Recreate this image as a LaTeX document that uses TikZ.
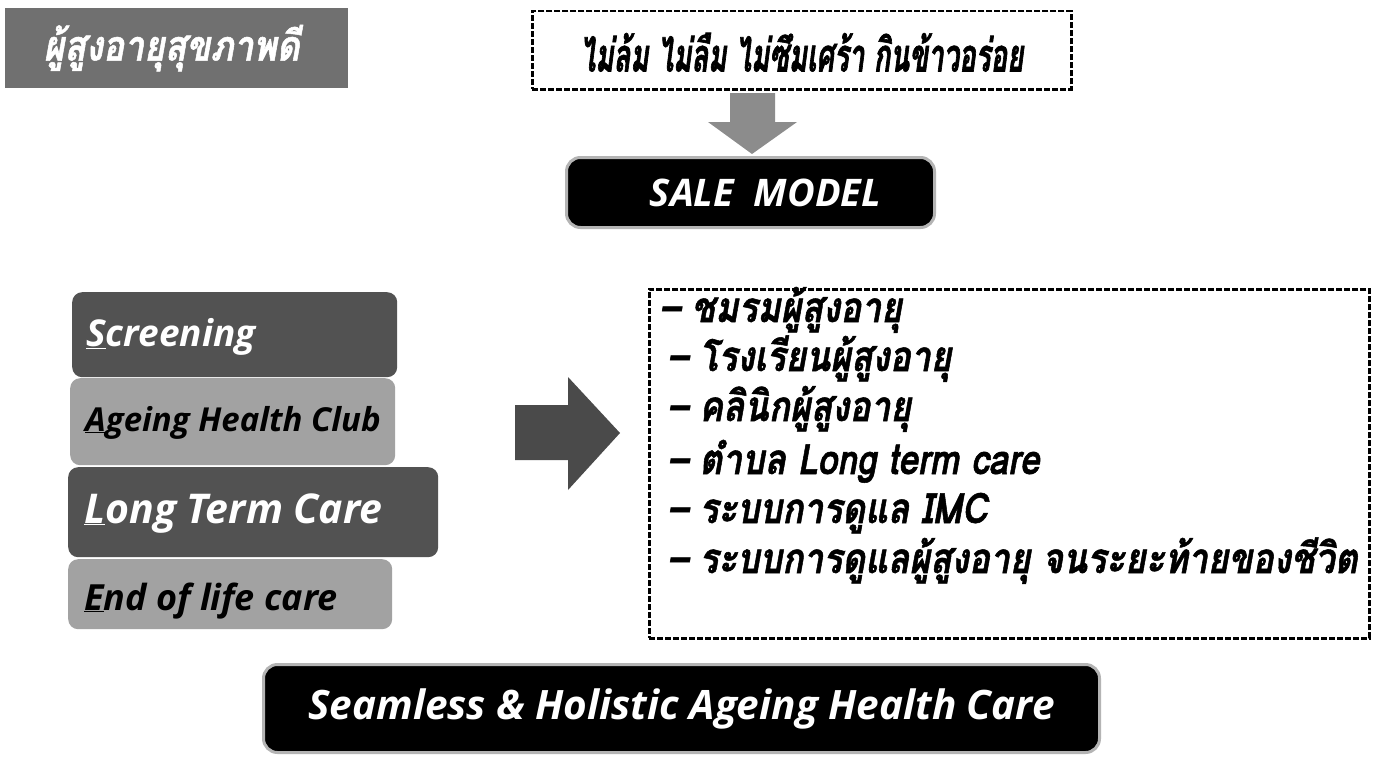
\documentclass[tikz,border=0pt]{standalone}
\usepackage{fontspec}
\setmainfont{Open Sans}
\newfontfamily\thai[Script=Thai, FakeStretch=0.84, FakeBold=1.2]{Loma}
\newfontfamily\thain[Script=Thai, FakeStretch=0.6, FakeBold=1.4]{Loma}
\definecolor{dgray}{HTML}{525252}
\definecolor{lgray}{HTML}{A2A2A2}
\definecolor{tgray}{HTML}{707070}
\definecolor{agray}{HTML}{8C8C8C}
\definecolor{rgray}{HTML}{4A4A4A}
\definecolor{glow}{HTML}{B4B4B4}
\tikzset{
  darkbox/.style={fill=dgray, rounded corners=10pt, inner sep=0pt},
  lightbox/.style={fill=lgray, rounded corners=10pt, inner sep=0pt},
  blackbox/.style={fill=black, draw=glow, line width=3pt, rounded corners=14pt, inner sep=0pt},
  dashbox/.style={draw=black, line width=2.5pt, dash pattern=on 6pt off 2pt, inner sep=0pt},
  wtxt/.style={text=white, inner sep=0pt},
  btxt/.style={text=black, inner sep=0pt},
  thaiitem/.style={anchor=base west, inner sep=0pt, font=\thai\fontsize{42}{48}\selectfont\bfseries\itshape},
}
\begin{document}
\begin{tikzpicture}[x=1pt,y=-1pt]
\useasboundingbox (0,0) rectangle (1380,760);
\fill[white] (0,0) rectangle (1380,760);

% top left title
\node[fill=tgray, minimum width=343, minimum height=80, anchor=north west, inner sep=0pt] (title) at (5,8) {};
\node[text=white, font=\thai\fontsize{42}{48}\selectfont\bfseries\itshape] (titlet) at ([xshift=-5pt]title.center) {ผู้สูงอายุสุขภาพดี};

% top dashed box
\node[dashbox, minimum width=539, minimum height=78, anchor=north west] (goal) at (531,10) {};
\node[font=\thain\fontsize{46}{52}\selectfont\bfseries\itshape] (goalt) at ([yshift=-2pt]goal.center) {ไม่ล้ม ไม่ลืม ไม่ซึมเศร้า กินข้าวอร่อย};

% SALE MODEL
\node[blackbox, minimum width=368, minimum height=70, anchor=north west] (sale) at (565,156) {};
\node[wtxt, font=\fontsize{38}{44}\selectfont\bfseries\itshape] (salet) at ([xshift=15pt]sale.center) {SALE\ \ MODEL};

% down arrow
\fill[agray] (730,93) -- (775,93) -- (775,122) -- (797,122) -- (752,154) -- (708,122) -- (730,122) -- cycle;

% left stack
\node[darkbox, minimum width=325, minimum height=85, anchor=north west] (scr) at (72,292) {};
\node[lightbox, minimum width=325, minimum height=87, anchor=north west] (agc) at (70,378) {};
\node[darkbox, minimum width=370, minimum height=90, anchor=north west] (ltc) at (68,467) {};
\node[lightbox, minimum width=324, minimum height=70, anchor=north west] (eol) at (68,559) {};

\node[wtxt, font=\fontsize{37}{42}\selectfont\bfseries\itshape, anchor=base west] (scrt) at (86,346) {\underline{S}creening};
\node[btxt, font=\fontsize{33}{38}\selectfont\bfseries\itshape, anchor=base west] (agct) at (85,431) {\underline{A}geing Health Club};
\node[wtxt, font=\fontsize{41}{46}\selectfont\bfseries\itshape, anchor=base west] (ltct) at (84,523) {\underline{L}ong Term Care};
\node[btxt, font=\fontsize{36}{40}\selectfont\bfseries\itshape, anchor=base west] (eolt) at (84,610) {\underline{E}nd of life care};

% right arrow
\fill[rgray] (515,405) -- (568,405) -- (568,377) -- (620,433) -- (568,490) -- (568,460) -- (515,460) -- cycle;

% right dashed box
\node[dashbox, minimum width=720, minimum height=349, anchor=north west] (list) at (648,288) {};
\node[thaiitem] (l1) at (660,322) {– ชมรมผู้สูงอายุ};
\node[thaiitem] (l2) at (668,371) {– โรงเรียนผู้สูงอายุ};
\node[thaiitem] (l3) at (668,421) {– คลินิกผู้สูงอายุ};
\node[thaiitem] (l4) at (668,474) {– ตำบล Long term care};
\node[thaiitem] (l5) at (668,523) {– ระบบการดูแล IMC};
\node[thaiitem] (l6) at (668,573) {– ระบบการดูแลผู้สูงอายุ จนระยะท้ายของชีวิต};

% bottom box
\node[blackbox, minimum width=836, minimum height=88, anchor=north west] (seam) at (262,663) {};
\node[text=white, font=\fontsize{40.5}{46}\selectfont\bfseries\itshape] (seamt) at (seam.center) {Seamless \& Holistic Ageing Health Care};
\end{tikzpicture}
\end{document}
